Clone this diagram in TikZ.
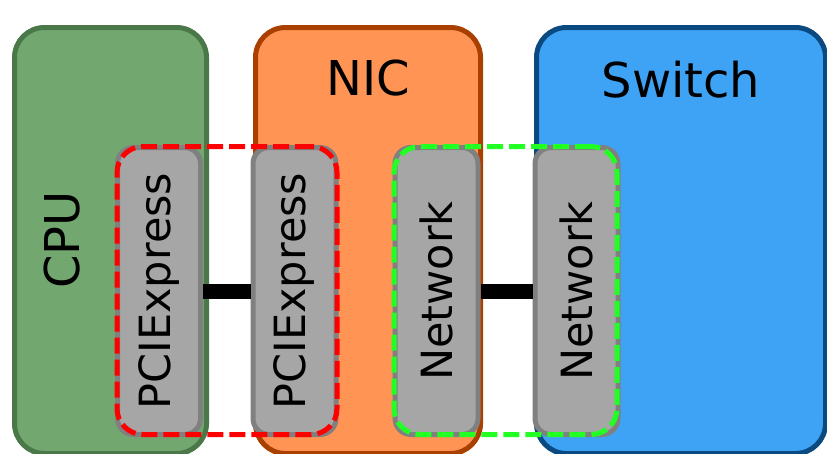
\documentclass[tikz,border=0pt]{standalone}
\usepackage{fontspec}
\setmainfont{DejaVu Sans}
\definecolor{cpufill}{HTML}{72A870}
\definecolor{cpuline}{HTML}{4A7848}
\definecolor{nicfill}{HTML}{FF9455}
\definecolor{nicline}{HTML}{AA4000}
\definecolor{swfill}{HTML}{3FA3F5}
\definecolor{swline}{HTML}{0B4A80}
\definecolor{portfill}{HTML}{A6A6A6}
\definecolor{portline}{HTML}{808080}
\definecolor{linkred}{HTML}{FF0000}
\definecolor{linkgreen}{HTML}{22FF22}
\tikzset{
  device/.style={draw, line width=5pt, rounded corners=30pt, minimum height=426pt, inner sep=0pt},
  port/.style={draw=portline, fill=portfill, line width=5pt, rounded corners=16pt,
    minimum width=83pt, minimum height=287pt, inner sep=0pt},
  portlabel/.style={rotate=90, font=\fontsize{43}{43}\selectfont},
  title/.style={font=\fontsize{48}{48}\selectfont},
  wire/.style={line width=15pt, black},
  linkbox/.style={line width=5pt, dash pattern=on 16pt off 6pt, rounded corners=26pt,
    minimum height=288pt, inner sep=0pt}
}
\begin{document}
\begin{tikzpicture}[x=1pt,y=-1pt]
\useasboundingbox (0,0) rectangle (827,453);
\clip (0,0) rectangle (827,453);
% devices
\node[device, draw=cpuline, fill=cpufill, minimum width=192pt] (cpu) at (110.5,240.5) {};
\node[device, draw=nicline, fill=nicfill, minimum width=225pt] (nic) at (368,240.5) {};
\node[device, draw=swline, fill=swfill, minimum width=289pt] (sw) at (681,240.5) {};
% ports
\node[port] (p1) at (159,291) {};
\node[port] (p2) at (294.5,291) {};
\node[port] (n1) at (436.5,291) {};
\node[port] (n2) at (576.5,291) {};
% wires
\draw[wire] (p1.east) -- (p2.west);
\draw[wire] (n1.east) -- (n2.west);
% link groupings
\node[linkbox, draw=linkred, minimum width=220pt] (pcilink) at (227,290.5) {};
\node[linkbox, draw=linkgreen, minimum width=223pt] (netlink) at (505.5,290.5) {};
% labels
\node[title, rotate=90] (cpul) at (62,240) {CPU};
\node[title] (nicl) at (368,78) {NIC};
\node[title] (swl) at (681,80) {Switch};
\node[portlabel] (p1l) at (p1) {PCIExpress};
\node[portlabel] (p2l) at (p2) {PCIExpress};
\node[portlabel] (n1l) at (n1) {Network};
\node[portlabel] (n2l) at (n2) {Network};
\end{tikzpicture}
\end{document}
